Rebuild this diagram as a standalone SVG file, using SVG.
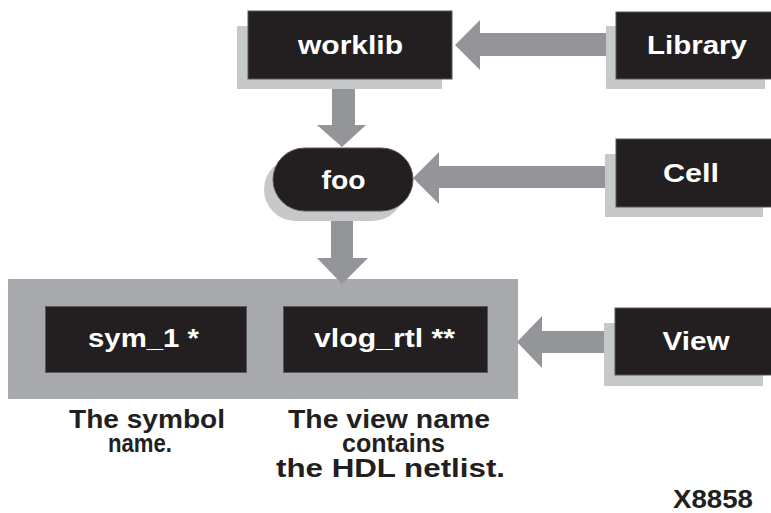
<svg xmlns="http://www.w3.org/2000/svg" width="771" height="513" viewBox="0 0 771 513">
  <style>
    .shadow { fill: #c7c8ca; }
    .box { fill: #231f20; stroke: #58595b; stroke-width: 1; }
    .label { font-family: "Liberation Sans", Arial, sans-serif; font-weight: bold; font-size: 25px; text-anchor: middle; }
    .inv { fill: #ffffff; }
    .note { fill: #231f20; font-size: 26px; }
    .arrow { fill: #939598; }
    .frame { fill: #a7a9ac; }
  </style>

  <!-- view container behind the two view boxes -->
  <g id="view-frame">
    <rect class="frame" x="8" y="279" width="510" height="120"/>
  </g>

  <!-- connectors -->
  <g id="connectors">
    <!-- Library -> worklib -->
    <polygon class="arrow" points="616,33 480,33 480,20 455,45 480,70 480,56 616,56"/>
    <!-- worklib -> foo -->
    <polygon class="arrow" points="332,79 355,79 355,125 366,125 342,147 317,125 332,125"/>
    <!-- Cell -> foo -->
    <polygon class="arrow" points="617,166 439,166 439,152 413,178 439,204 439,188 617,188"/>
    <!-- foo -> view container -->
    <polygon class="arrow" points="331,211 353,211 353,258 368,258 342,284 317,258 331,258"/>
    <!-- View -> view container -->
    <polygon class="arrow" points="615,331 542,331 542,316 517,342 542,368 542,353 615,353"/>
  </g>

  <g id="worklib">
    <rect class="shadow" x="237" y="26" width="205" height="63"/>
    <rect class="box" x="248" y="11" width="204" height="68"/>
    <text class="label inv" x="350.5" y="54" textLength="105" lengthAdjust="spacingAndGlyphs">worklib</text>
  </g>

  <g id="library">
    <rect class="shadow" x="606" y="26" width="159" height="63"/>
    <rect class="box" x="616" y="12" width="160" height="67"/>
    <text class="label inv" x="697" y="54" textLength="100" lengthAdjust="spacingAndGlyphs">Library</text>
  </g>

  <g id="foo">
    <rect class="shadow" x="264" y="158" width="140" height="63" rx="31.5"/>
    <rect class="box" x="273" y="148" width="140" height="63" rx="31.5"/>
    <text class="label inv" x="343.5" y="189" textLength="44" lengthAdjust="spacingAndGlyphs">foo</text>
  </g>

  <g id="cell">
    <rect class="shadow" x="605" y="154" width="158" height="63"/>
    <rect class="box" x="616" y="139" width="160" height="68"/>
    <text class="label inv" x="691" y="182" textLength="56" lengthAdjust="spacingAndGlyphs">Cell</text>
  </g>

  <g id="view">
    <rect class="shadow" x="604" y="323" width="159" height="63"/>
    <rect class="box" x="615" y="308" width="161" height="67"/>
    <text class="label inv" x="696" y="350" textLength="67" lengthAdjust="spacingAndGlyphs">View</text>
  </g>

  <g id="sym_1">
    <rect class="box" x="45.5" y="306.5" width="201" height="66"/>
    <text class="label inv" x="143.5" y="347" textLength="111" lengthAdjust="spacingAndGlyphs">sym_1 *</text>
  </g>

  <g id="vlog_rtl">
    <rect class="box" x="283.5" y="306.5" width="204" height="66"/>
    <text class="label inv" x="384.5" y="347" textLength="141" lengthAdjust="spacingAndGlyphs">vlog_rtl **</text>
  </g>

  <g id="notes">
    <text class="label note" x="147" y="428" textLength="156" lengthAdjust="spacingAndGlyphs">The symbol</text>
    <text class="label note" x="140" y="452" textLength="64" lengthAdjust="spacingAndGlyphs">name.</text>
    <text class="label note" x="389" y="428" textLength="202" lengthAdjust="spacingAndGlyphs">The view name</text>
    <text class="label note" x="393.5" y="452" textLength="103" lengthAdjust="spacingAndGlyphs">contains</text>
    <text class="label note" x="390.5" y="477" textLength="229" lengthAdjust="spacingAndGlyphs">the HDL netlist.</text>
    <text class="label note" x="713" y="508" textLength="80" lengthAdjust="spacingAndGlyphs">X8858</text>
  </g>
</svg>
